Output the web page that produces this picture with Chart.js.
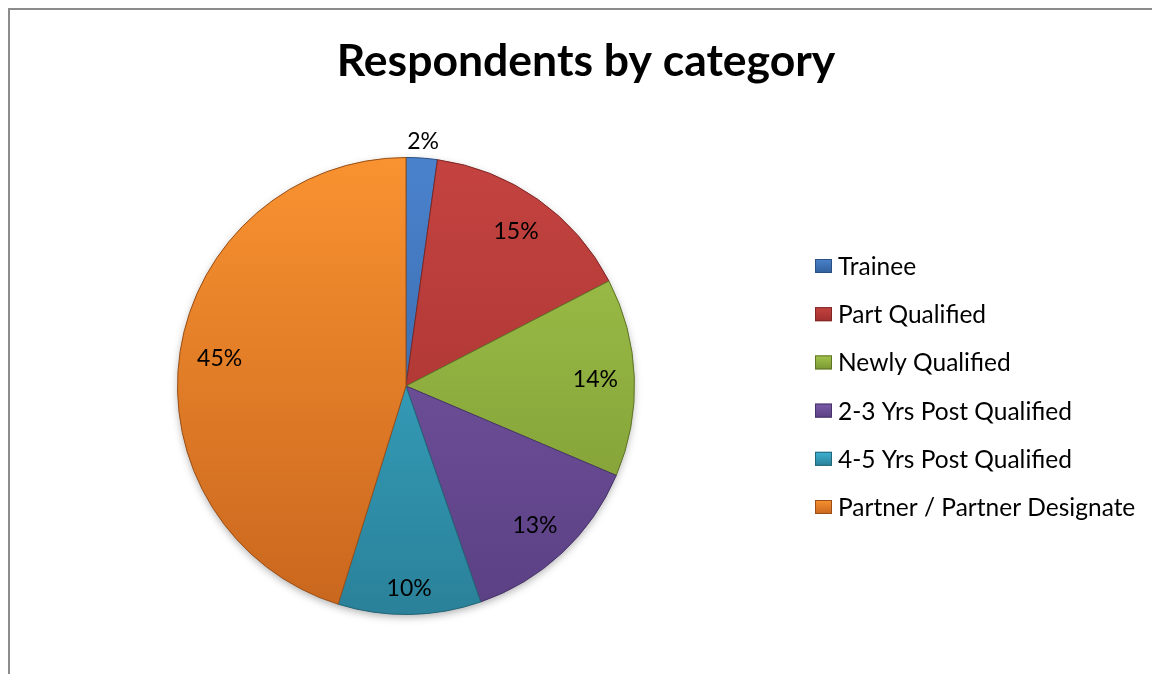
<!DOCTYPE html>
<html>
<head>
<meta charset="utf-8">
<script src="https://cdn.jsdelivr.net/npm/chart.js@4.4.1/dist/chart.umd.min.js"></script>
<style>
  html, body { margin: 0; padding: 0; background: #fff; }
  #wrap { position: relative; width: 1152px; height: 674px; overflow: hidden; }
  canvas { display: block; }
</style>
</head>
<body>
<div id="wrap"><canvas id="c" width="1152" height="674"></canvas></div>
<script>
const titleText = 'Respondents by category';
const categories = ['Trainee', 'Part Qualified', 'Newly Qualified', '2-3 Yrs Post Qualified', '4-5 Yrs Post Qualified', 'Partner / Partner Designate'];
const shares = [2.2, 15.2, 14.0, 13.3, 10.1, 45.2];
const topColors = ['#4a82cc', '#c44340', '#a3c64c', '#7b5aa8', '#3db2d2', '#f99230'];
const bottomColors = ['#305f9c', '#a02f2d', '#7a9632', '#5b4084', '#2a8199', '#c8661e'];
const edgeColors = ['#2b4f80', '#7e2624', '#5f7427', '#47336a', '#216577', '#9a4f17'];

const FONT = 'Lato, "Liberation Sans", sans-serif';

function sliceFill(ctx) {
  const chart = ctx.chart;
  const a = chart.chartArea;
  if (!a) return topColors[ctx.dataIndex];
  const g = chart.ctx.createLinearGradient(0, a.top, 0, a.bottom);
  g.addColorStop(0, topColors[ctx.dataIndex]);
  g.addColorStop(1, bottomColors[ctx.dataIndex]);
  return g;
}

const decor = {
  id: 'decor',
  beforeDraw(chart) {
    const c = chart.ctx;
    c.save();
    c.fillStyle = '#ffffff';
    c.fillRect(0, 0, chart.width, chart.height);
    c.strokeStyle = '#8c8c8c';
    c.lineWidth = 2;
    c.beginPath();
    c.moveTo(1160, 9);
    c.lineTo(9, 9);
    c.lineTo(9, 680);
    c.stroke();
    c.restore();
  },
  beforeDatasetsDraw(chart) {
    const meta = chart.getDatasetMeta(0);
    if (!meta.data.length) return;
    const p = meta.data[0].getProps(['x', 'y', 'outerRadius'], true);
    const c = chart.ctx;
    c.save();
    c.shadowColor = 'rgba(0,0,0,0.35)';
    c.shadowBlur = 8;
    c.shadowOffsetY = 3;
    c.fillStyle = '#ffffff';
    c.beginPath();
    c.arc(p.x, p.y, p.outerRadius - 1, 0, Math.PI * 2);
    c.fill();
    c.restore();
  },
  afterDatasetsDraw(chart) {
    const c = chart.ctx;
    const meta = chart.getDatasetMeta(0);
    const total = shares.reduce((s, v) => s + v, 0);
    c.save();
    c.fillStyle = '#000';
    c.font = '23px ' + FONT;
    c.textAlign = 'center';
    c.textBaseline = 'middle';
    meta.data.forEach((arc, i) => {
      const p = arc.getProps(['x', 'y', 'startAngle', 'endAngle', 'outerRadius'], true);
      const mid = (p.startAngle + p.endAngle) / 2;
      const pct = shares[i] / total * 100;
      const txt = Math.round(pct) + '%';
      const hw = c.measureText(txt).width / 2, hh = 11;
      const ext = Math.abs(hw * Math.cos(mid)) + Math.abs(hh * Math.sin(mid));
      const r = pct < 5 ? p.outerRadius + 18 : p.outerRadius - 16 - ext;
      const x = p.x + Math.cos(mid) * r;
      const y = p.y + Math.sin(mid) * r;
      c.fillText(txt, x, y + 1);
    });
    // title
    c.font = 'bold 44.5px ' + FONT;
    c.fillText(titleText, 586, 62);
    // legend
    c.textAlign = 'left';
    c.font = '24.5px ' + FONT;
    const rowY = 266, rowGap = 48.2;
    categories.forEach((name, i) => {
      const y = rowY + i * rowGap;
      const g = c.createLinearGradient(0, y - 7, 0, y + 7);
      g.addColorStop(0, topColors[i]);
      g.addColorStop(1, bottomColors[i]);
      c.fillStyle = g;
      c.fillRect(815, y - 7, 17, 14);
      c.strokeStyle = edgeColors[i];
      c.lineWidth = 1;
      c.strokeRect(815.5, y - 6.5, 16, 13);
      c.fillStyle = '#000';
      c.fillText(name, 838, y + 1);
    });
    c.restore();
  }
};

new Chart(document.getElementById('c'), {
  type: 'pie',
  data: {
    labels: categories,
    datasets: [{
      data: shares,
      backgroundColor: sliceFill,
      borderColor: edgeColors,
      borderWidth: 1
    }]
  },
  options: {
    responsive: false,
    animation: false,
    layout: { padding: { left: 177, right: 517, top: 157, bottom: 59 } },
    plugins: {
      legend: { display: false },
      title: { display: false },
      tooltip: { enabled: false }
    }
  },
  plugins: [decor]
});
</script>
</body>
</html>
